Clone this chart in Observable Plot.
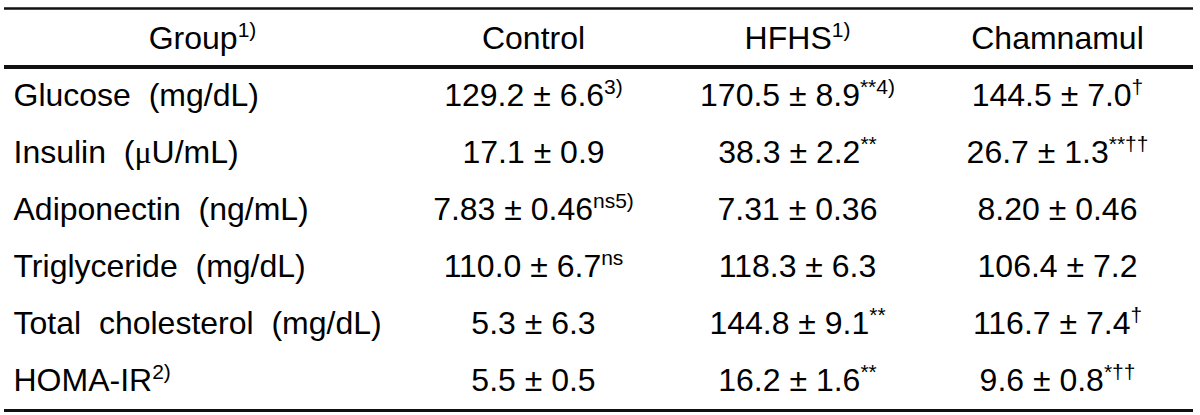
<!DOCTYPE html>
<html>
<head>
<meta charset="utf-8">
<script src="https://cdn.jsdelivr.net/npm/d3@7"></script>
<script src="https://cdn.jsdelivr.net/npm/@observablehq/plot@0.6"></script>
<style>
  html, body { margin: 0; padding: 0; background: #fff; }
  svg text { white-space: pre; }
</style>
</head>
<body>
<div id="chart"></div>
<script>
// ---- data ----
const columns = ["Group", "Control", "HFHS", "Chamnamul"];
const columnNotes = ["1)", "", "1)", ""];
const rowLabels = ["Glucose  (mg/dL)", "Insulin  (μU/mL)", "Adiponectin  (ng/mL)", "Triglyceride  (mg/dL)", "Total  cholesterol  (mg/dL)", "HOMA-IR"];
const rowNotes = ["", "", "", "", "", "2)"];
const decimals = [1, 1, 2, 1, 1, 1];

const controlMean = [129.2, 17.1, 7.83, 110.0, 5.3, 5.5];
const controlSE   = [6.6, 0.9, 0.46, 6.7, 6.3, 0.5];
const controlSig  = ["3)", "", "ns5)", "ns", "", ""];

const hfhsMean = [170.5, 38.3, 7.31, 118.3, 144.8, 16.2];
const hfhsSE   = [8.9, 2.2, 0.36, 6.3, 9.1, 1.6];
const hfhsSig  = ["**4)", "**", "", "", "**", "**"];

const chamMean = [144.5, 26.7, 8.20, 106.4, 116.7, 9.6];
const chamSE   = [7.0, 1.3, 0.46, 7.2, 7.4, 0.8];
const chamSig  = ["†", "**††", "", "", "†", "*††"];

// ---- tables built from the arrays ----
const SEP = "^";
const headerCells = columns.map((c, i) => ({col: i, row: columns[0], text: c + (columnNotes[i] ? SEP + columnNotes[i] : "")}));
const groups = [[controlMean, controlSE, controlSig], [hfhsMean, hfhsSE, hfhsSig], [chamMean, chamSE, chamSig]];
const valueCells = [];
groups.forEach(([m, se, sig], g) => {
  rowLabels.forEach((r, i) => {
    const txt = m[i].toFixed(decimals[i]) + " ± " + se[i].toFixed(decimals[i]);
    valueCells.push({col: g + 1, row: r, text: txt + (sig[i] ? SEP + sig[i] : "")});
  });
});
const labelCells = rowLabels.map((r, i) => ({row: r, text: r + (rowNotes[i] ? SEP + rowNotes[i] : "")}));

const FONT = "Liberation Sans, Arial, sans-serif";

const chart = Plot.plot({
  width: 1200,
  height: 415,
  marginTop: 0,
  marginBottom: 0,
  marginLeft: 4,
  marginRight: 7,
  style: {fontFamily: FONT, fontSize: "32px", background: "#fff", color: "#000"},
  x: {type: "linear", domain: [0, 1, 2, 3], range: [202, 533, 797, 1057], axis: null},
  y: {type: "point", domain: [columns[0], ...rowLabels], range: [37, 381], padding: 0, axis: null},
  marks: [
    Plot.ruleY([columns[0]], {dy: -30, stroke: "#111", strokeWidth: 2.5}),
    Plot.ruleY([columns[0]], {dy: 28.5, stroke: "#111", strokeWidth: 4}),
    Plot.ruleY([rowLabels[rowLabels.length - 1]], {dy: 30, stroke: "#111", strokeWidth: 3}),
    Plot.text(headerCells, {x: "col", y: "row", text: "text", fontSize: 32, fill: "#000", textAnchor: "middle"}),
    Plot.text(valueCells, {x: "col", y: "row", text: "text", fontSize: 32, fill: "#000", textAnchor: "middle"}),
    Plot.text(labelCells, {y: "row", text: "text", frameAnchor: "left", dx: 9, fontSize: 32, fill: "#000", textAnchor: "start"})
  ]
});

// superscripts and serif micro sign as tspans
const NS = "http://www.w3.org/2000/svg";
chart.setAttributeNS("http://www.w3.org/XML/1998/namespace", "xml:space", "preserve");
chart.querySelectorAll("text").forEach(t => {
  const s = t.textContent;
  if (!s.includes(SEP) && !s.includes("μ")) return;
  const [main, sup] = s.split(SEP);
  t.textContent = "";
  main.split(/(μ)/).forEach(part => {
    if (!part) return;
    const ts = document.createElementNS(NS, "tspan");
    if (part === "μ") ts.setAttribute("font-family", "Liberation Serif, Times New Roman, serif");
    ts.textContent = part;
    t.appendChild(ts);
  });
  if (sup) {
    const ts = document.createElementNS(NS, "tspan");
    ts.setAttribute("font-size", "21");
    ts.setAttribute("dy", "-12");
    ts.textContent = sup;
    t.appendChild(ts);
  }
});

document.getElementById("chart").appendChild(chart);
</script>
</body>
</html>
